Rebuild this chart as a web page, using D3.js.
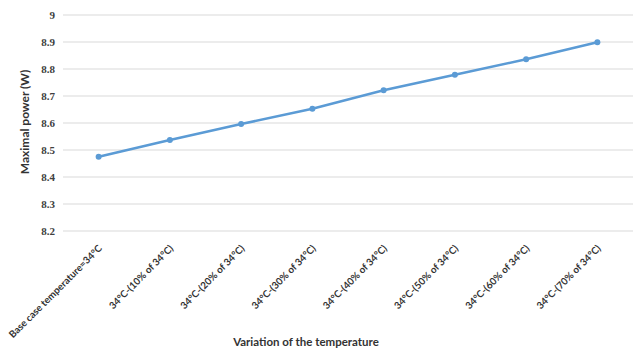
<!DOCTYPE html>
<html>
<head>
<meta charset="utf-8">
<script src="https://cdn.jsdelivr.net/npm/d3@7"></script>
<style>
  html, body { margin: 0; padding: 0; background: #fff; }
  svg { display: block; }
</style>
</head>
<body>
<svg id="chart" width="641" height="350"></svg>
<script>
// Temperature scenarios along the x axis
const categories = [
  "Base case temperature=34°C",
  "34°C-(10% of 34°C)",
  "34°C-(20% of 34°C)",
  "34°C-(30% of 34°C)",
  "34°C-(40% of 34°C)",
  "34°C-(50% of 34°C)",
  "34°C-(60% of 34°C)",
  "34°C-(70% of 34°C)"
];
// Maximal power output (W) for each scenario
const maxPower = [8.475, 8.537, 8.596, 8.653, 8.721, 8.779, 8.836, 8.899];
// Y axis ticks
const yTicks = [8.2, 8.3, 8.4, 8.5, 8.6, 8.7, 8.8, 8.9, 9];

const svg = d3.select("#chart");
const plot = { left: 63, right: 633, top: 15, bottom: 231 };

const x = d3.scaleBand().domain(categories).range([plot.left, plot.right]);
const y = d3.scaleLinear().domain([8.2, 9]).range([plot.bottom, plot.top]);

// Horizontal gridlines
svg.append("g")
  .selectAll("line")
  .data(yTicks)
  .join("line")
  .attr("x1", plot.left).attr("x2", plot.right)
  .attr("y1", d => y(d)).attr("y2", d => y(d))
  .attr("stroke", "#d9d9d9").attr("stroke-width", 1);

// Y axis tick labels
const yAxis = d3.axisLeft(y).tickValues(yTicks).tickSize(0).tickPadding(8)
  .tickFormat(d => d3.format("")(+d.toFixed(1)));
const yg = svg.append("g").attr("transform", `translate(${plot.left},0)`).call(yAxis);
yg.select(".domain").remove();
yg.selectAll("text")
  .attr("font-family", "'Liberation Serif', 'Times New Roman', serif")
  .attr("font-weight", "bold")
  .attr("font-size", 11)
  .attr("fill", "#404040");

// X axis category labels, rotated
const xAxis = d3.axisBottom(x).tickSize(0).tickPadding(0);
const xg = svg.append("g").attr("transform", `translate(0,${plot.bottom})`).call(xAxis);
xg.select(".domain").remove();
xg.selectAll("text")
  .attr("font-family", "Lato, 'Open Sans', sans-serif")
  .attr("font-weight", "bold")
  .attr("font-size", 9.8)
  .attr("fill", "#333333")
  .attr("text-anchor", "end")
  .attr("dy", 0)
  .attr("transform", "translate(4,18) rotate(-45)");

// Line series
const line = d3.line()
  .x((d, i) => x(categories[i]) + x.bandwidth() / 2)
  .y(d => y(d));

svg.append("path")
  .datum(maxPower)
  .attr("d", line)
  .attr("fill", "none")
  .attr("stroke", "#5b9bd5")
  .attr("stroke-width", 2.5)
  .attr("stroke-linecap", "round");

svg.append("g")
  .selectAll("circle")
  .data(maxPower)
  .join("circle")
  .attr("cx", (d, i) => x(categories[i]) + x.bandwidth() / 2)
  .attr("cy", d => y(d))
  .attr("r", 3)
  .attr("fill", "#5b9bd5");

// Axis titles
svg.append("text")
  .attr("transform", `translate(29,${(plot.top + plot.bottom) / 2 - 1}) rotate(-90)`)
  .attr("text-anchor", "middle")
  .attr("font-family", "Lato, 'Open Sans', sans-serif")
  .attr("font-weight", "bold")
  .attr("font-size", 12)
  .attr("fill", "#333333")
  .text("Maximal power (W)");

svg.append("text")
  .attr("x", 306).attr("y", 346)
  .attr("text-anchor", "middle")
  .attr("font-family", "Lato, 'Open Sans', sans-serif")
  .attr("font-weight", "bold")
  .attr("font-size", 11.5)
  .attr("fill", "#333333")
  .text("Variation of the temperature");
</script>
</body>
</html>
